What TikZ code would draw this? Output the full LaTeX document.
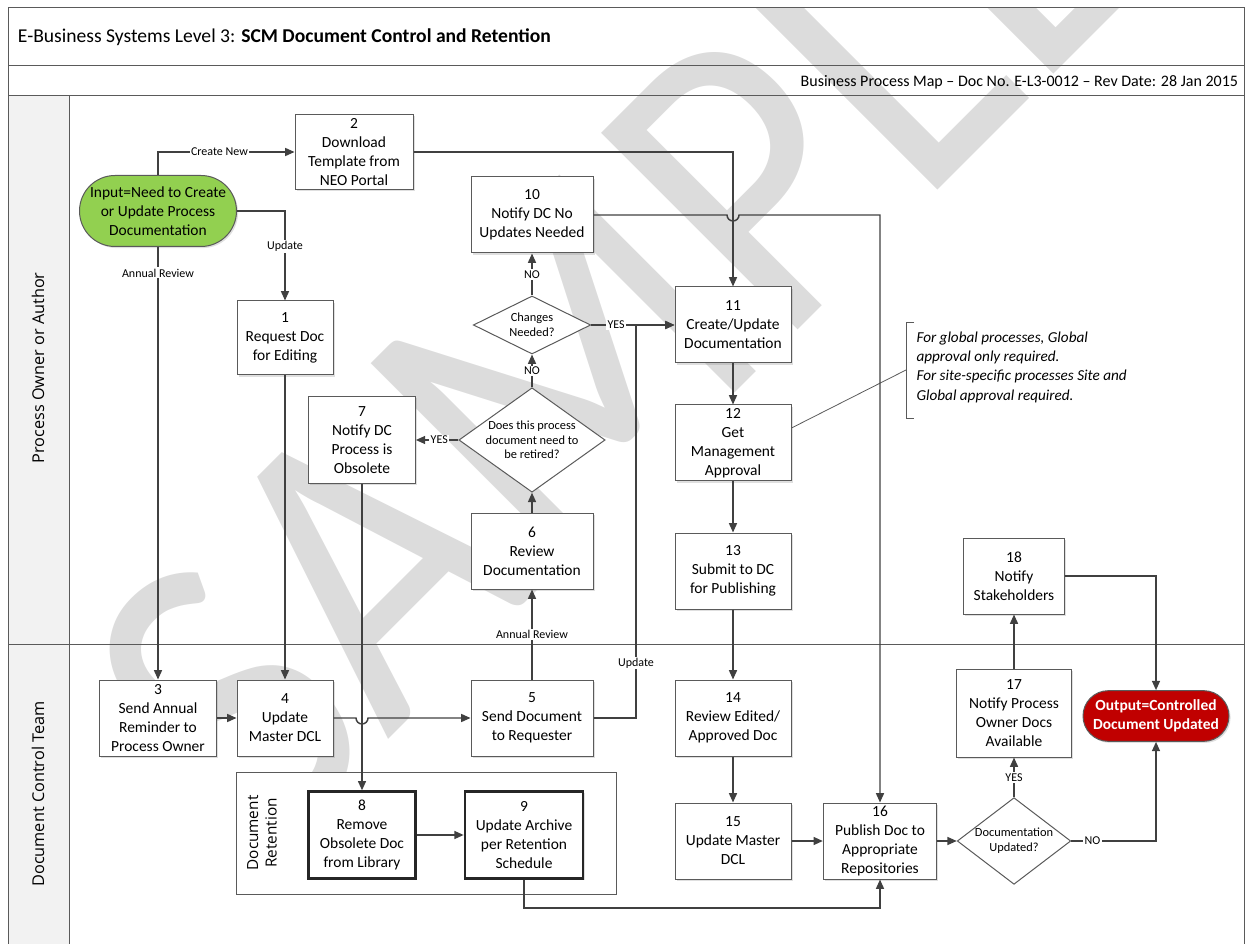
\documentclass[tikz,border=0pt]{standalone}
\usepackage{fontspec}
\setmainfont{Carlito}
\newfontfamily\lanefont{Open Sans}
\newfontfamily\wmfont[FakeStretch=0.89]{Carlito}
\usetikzlibrary{arrows.meta,shapes.geometric,shapes.misc,shadows}

\definecolor{linegray}{RGB}{64,64,64}
\definecolor{boxgray}{RGB}{90,90,90}
\definecolor{lanefill}{RGB}{242,242,242}
\definecolor{startgreen}{RGB}{146,208,80}
\definecolor{endred}{RGB}{192,0,0}
\definecolor{wmgray}{RGB}{220,220,220}

\tikzset{every picture/.style={line width=0.75pt}}
\tikzset{
  procbox/.style={draw=boxgray,fill=white,align=center,inner sep=0pt,
    font=\fontsize{11.6}{14.3}\selectfont,
    drop shadow={shadow xshift=1.2pt,shadow yshift=-1.2pt,opacity=0.25}},
  heavybox/.style={procbox,draw=black!85,line width=2pt},
  decision/.style={diamond,draw=boxgray,fill=white,align=center,inner sep=0pt,
    aspect=1.4,font=\fontsize{9.3}{11}\selectfont},
  terminal/.style={rounded rectangle,draw=boxgray,align=center,inner sep=0pt,
    font=\fontsize{11.6}{14.3}\selectfont,
    drop shadow={shadow xshift=1.2pt,shadow yshift=-1.2pt,opacity=0.25}},
  flow/.style={draw=linegray,line width=1.1pt,-{Triangle[length=7pt,width=6pt]}},
  tag/.style={font=\fontsize{9}{10}\selectfont,fill=white,inner sep=1pt},
  lanelabel/.style={rotate=90,font=\lanefont\fontsize{12.2}{14}\selectfont},
  wmtext/.style={text=wmgray,inner sep=0pt,font=\wmfont\fontsize{325}{325}\selectfont}
}

\begin{document}
\begin{tikzpicture}[x=0.75pt,y=0.75pt,yscale=-1]
\useasboundingbox (0,0) rectangle (1249,944);
%Shape: Lane header fill
\fill[lanefill] (8,96) rectangle (69,944);

%Watermark
\begin{scope}
  \clip (8,8) rectangle (1244,944);
  \node[wmtext,rotate=45,anchor=base west] (wm) at (264,864) {SAMPLE};
\end{scope}

%Shape: Frame and lanes
\draw[boxgray] (8,944) -- (8,8) -- (1244,8) -- (1244,944);
\draw[boxgray] (8,66) -- (1244,66);
\draw[boxgray] (8,96) -- (1244,96);
\draw[boxgray] (69,96) -- (69,944);
\draw[boxgray] (8,644) -- (1244,644);

%Title texts
\node[anchor=west,font=\fontsize{14.7}{18}\selectfont] (title) at (13,37) {E-Business Systems Level 3: \textbf{SCM Document Control and Retention}};
\node[anchor=east,font=\fontsize{12}{14}\selectfont] (subtitle) at (1243,82) {Business Process Map -- Doc No. E-L3-0012 -- Rev Date: 28 Jan 2015};
\node[lanelabel] (laneA) at (38,368) {Process Owner or Author};
\node[lanelabel] (laneB) at (38,794) {Document Control Team};

%Retention group
\draw[boxgray,fill=white] (236,772) rectangle (616,894);
\node[lanelabel,align=center,font=\lanefont\fontsize{11.5}{14}\selectfont] (retlabel) at (262,833) {Document\\Retention};

%Shapes: lane 1
\node[terminal,fill=startgreen,minimum width=117.75pt,minimum height=53.25pt] (start) at (158,211) {Input=Need to Create\\or Update Process\\Documentation};
\node[procbox,minimum width=88.5pt,minimum height=56.25pt] (s2) at (354,152) {2\\Download\\Template from\\NEO Portal};
\node[procbox,minimum width=91.5pt,minimum height=57pt] (s10) at (532,215) {10\\Notify DC No\\Updates Needed};
\node[procbox,minimum width=72pt,minimum height=55.5pt] (s1) at (285,338) {1\\Request Doc\\for Editing};
\node[decision,minimum width=88pt,minimum height=43.5pt] (chg) at (532,325) {Changes\\Needed?};
\node[decision,minimum width=97.5pt,minimum height=65pt] (ret) at (532,440) {Does this process\\document need to\\be retired?};
\node[procbox,minimum width=80pt,minimum height=65pt] (s7) at (362,440) {7\\Notify DC\\Process is\\Obsolete};
\node[procbox,minimum width=91.5pt,minimum height=57pt] (s6) at (532,551) {6\\Review\\Documentation};
\node[procbox,minimum width=87pt,minimum height=57pt] (s11) at (733,325) {11\\Create/Update\\Documentation};
\node[procbox,minimum width=87pt,minimum height=57pt] (s12) at (733,443) {12\\Get\\Management\\Approval};
\node[procbox,minimum width=87pt,minimum height=57pt] (s13) at (733,571) {13\\Submit to DC\\for Publishing};
\node[procbox,minimum width=75.75pt,minimum height=57pt] (s18) at (1014,576) {18\\Notify\\Stakeholders};

%Note
\draw[boxgray,line width=0.6pt] (914,322) -- (906,322) -- (906,418) -- (914,418);
\node[anchor=north west,align=left,font=\itshape\fontsize{11.4}{14.6}\selectfont,inner sep=0pt] (note) at (916,331) {For global processes, Global\\approval only required.\\For site-specific processes Site and\\Global approval required.};
\coordinate (notept) at (906,370);
\draw[boxgray,line width=0.6pt] (s12.east |- 0,428) -- (notept);

%Shapes: lane 2
\node[procbox,minimum width=87.75pt,minimum height=57pt] (s3) at (158,718) {3\\Send Annual\\Reminder to\\Process Owner};
\node[procbox,minimum width=72pt,minimum height=57pt] (s4) at (285,718) {4\\Update\\Master DCL};
\node[procbox,minimum width=91.5pt,minimum height=57pt] (s5) at (532,718) {5\\Send Document\\to Requester};
\node[heavybox,minimum width=80pt,minimum height=65pt] (s8) at (362,835) {8\\Remove\\Obsolete Doc\\from Library};
\node[heavybox,minimum width=88.5pt,minimum height=65pt] (s9) at (524,835) {9\\Update Archive\\per Retention\\Schedule};
\node[procbox,minimum width=87pt,minimum height=57pt] (s14) at (733,718) {14\\Review Edited/\\Approved Doc};
\node[procbox,minimum width=87pt,minimum height=57pt] (s15) at (733,841) {15\\Update Master\\DCL};
\node[procbox,minimum width=85pt,minimum height=57pt] (s16) at (880,841) {16\\Publish Doc to\\Appropriate\\Repositories};
\node[decision,minimum width=80pt,minimum height=65pt] (upd) at (1014,841) {Documentation\\Updated?};
\node[procbox,minimum width=86pt,minimum height=66pt] (s17) at (1014,713) {17\\Notify Process\\Owner Docs\\Available};
\node[terminal,fill=endred,text=white,font=\bfseries\fontsize{11.6}{14.3}\selectfont,minimum width=109.5pt,minimum height=38pt] (stop) at (1156,716) {Output=Controlled\\Document Updated};

%Connectors
\draw[flow] (start.north) -- (158,152) -- node[tag,pos=0.45]{Create New} (s2.west);
\draw[flow] (start.east) -- (285,211) -- node[tag,pos=0.4]{Update} (s1.north);
\draw[flow] (start.south) -- node[tag,pos=0.06]{Annual Review} (s3.north);
\draw[flow] (s1.south) -- (s4.north);
\draw[flow] (s3.east) -- (s4.west);
\draw[flow] (s4.east) -- (356,718) arc[start angle=180,end angle=0,radius=6] -- (s5.west);
\draw[flow] (s7.south) -- (s8.north);
\draw[flow] (s8.east) -- (s9.west);
\draw[flow] (s9.south) -- (524,908) -- (880,908) -- (s16.south);
\draw[flow] (s5.north) -- node[tag,pos=0.5]{Annual Review} (s6.south);
\draw[flow] (s6.north) -- (ret.south);
\draw[flow] (ret.west) -- node[tag,pos=0.45]{YES} (s7.east);
\draw[flow] (ret.north) -- node[tag,pos=0.5]{NO} (chg.south);
\draw[flow] (chg.north) -- node[tag,pos=0.5]{NO} (s10.south);
\draw[flow] (chg.east) -- node[tag,pos=0.3]{YES} (s11.west);
\draw[flow] (s5.east) -- (636,718) -- node[tag,pos=0.14]{Update} (636,325) -- (s11.west);
\draw[flow] (s2.east) -- (733,152) -- (s11.north);
\draw[flow] (s10.east) -- (727,215) arc[start angle=180,end angle=0,radius=6] -- (880,215) -- (s16.north);
\draw[flow] (s11.south) -- (s12.north);
\draw[flow] (s12.south) -- (s13.north);
\draw[flow] (s13.south) -- (s14.north);
\draw[flow] (s14.south) -- (s15.north);
\draw[flow] (s15.east) -- (s16.west);
\draw[flow] (s16.east) -- (upd.west);
\draw[flow] (upd.north) -- node[tag,pos=0.5]{YES} (s17.south);
\draw[flow] (s17.north) -- (s18.south);
\draw[flow] (s18.east) -- (1156,576) -- (stop.north);
\draw[flow] (upd.east) -- node[tag,pos=0.25]{NO} (1156,841) -- (stop.south);
\end{tikzpicture}
\end{document}
